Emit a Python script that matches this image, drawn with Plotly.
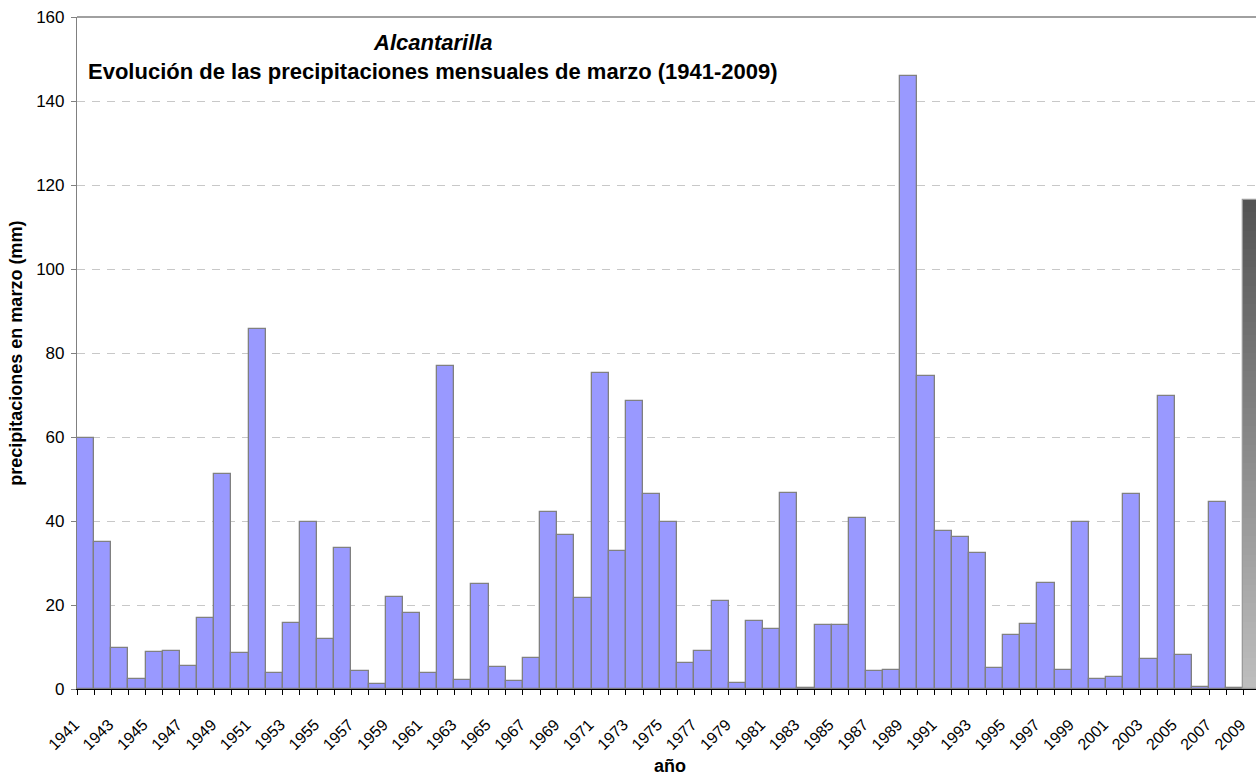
import plotly.graph_objects as go

# ---- data ----
years = list(range(1941, 2009))
precip = [59.7, 35.0, 9.8, 2.4, 8.7, 9.0, 5.4, 16.8, 51.3, 8.5,
          85.6, 3.9, 15.8, 39.8, 12.0, 33.6, 4.2, 1.3, 21.9, 18.1,
          3.9, 77.0, 2.1, 25.1, 5.3, 1.8, 7.3, 42.1, 36.7, 21.7,
          75.3, 32.9, 68.6, 46.4, 39.8, 6.3, 9.1, 21.0, 1.5, 16.3,
          14.2, 46.7, 0.2, 15.2, 15.2, 40.6, 4.2, 4.6, 146.0, 74.6,
          37.7, 36.2, 32.4, 4.9, 12.9, 15.5, 25.3, 4.6, 39.8, 2.5,
          2.9, 46.4, 7.1, 69.8, 8.2, 0.55, 44.6, 0.3]
last_year = 2009
last_value = 116.4
tick_years = list(range(1941, 2010, 2))
tick_labels = [str(y) for y in tick_years]
y_ticks = list(range(0, 161, 20))

FONT = "Liberation Sans, Arial, sans-serif"

fig = go.Figure()

fig.add_trace(go.Bar(
    x=years, y=precip, width=1,
    marker=dict(color="#9999FF", line=dict(color="#808080", width=1.3)),
    showlegend=False, hovertemplate="%{x}: %{y} mm<extra></extra>",
))

# gradient-filled bar for the last year (split into thin slices of the value)
N = 80
h = last_value / N
top_rgb = (84, 84, 84)
bot_rgb = (190, 190, 190)
cols = []
for i in range(N):
    t = i / (N - 1)
    c = [round(bot_rgb[k] + (top_rgb[k] - bot_rgb[k]) * t) for k in range(3)]
    cols.append(f"rgb({c[0]},{c[1]},{c[2]})")
fig.add_trace(go.Bar(
    x=[last_year] * N, y=[h * 1.05] * (N - 1) + [h], base=[i * h for i in range(N)],
    width=1, marker=dict(color=cols, line=dict(width=0)),
    showlegend=False, hoverinfo="skip",
))
fig.add_trace(go.Bar(
    x=[last_year], y=[last_value], width=1,
    marker=dict(color="rgba(0,0,0,0)", line=dict(color="#9a9a9a", width=1.3)),
    showlegend=False, hovertemplate="%{x}: %{y} mm<extra></extra>",
))

fig.update_layout(
    width=1256, height=776,
    margin=dict(l=77, r=0, t=17, b=87, autoexpand=False),
    paper_bgcolor="white", plot_bgcolor="white",
    barmode="overlay", bargap=0,
    font=dict(family=FONT, color="black", size=16),
    xaxis=dict(
        range=[1940.5, 2009.24], automargin=False,
        tickmode="array", tickvals=tick_years, ticktext=tick_labels,
        tickangle=-45, ticks="", tickfont=dict(size=16),
        ticklabelstandoff=19, ticklabelshift=-11, ticklabeloverflow="allow",
        showgrid=False, zeroline=False,
        showline=True, linecolor="black", linewidth=1.2,
        minor=dict(tick0=0.5, dtick=1, ticks="outside", ticklen=5,
                   tickcolor="black", tickwidth=1, showgrid=False),
    ),
    yaxis=dict(
        range=[0, 160], automargin=False, tickmode="array", tickvals=y_ticks,
        ticks="outside", ticklen=5, tickcolor="#808080",
        tickfont=dict(size=17), ticklabelstandoff=3,
        showgrid=True, gridcolor="#c8c8c8", gridwidth=1, griddash="8px,7px",
        zeroline=False, showline=True, linecolor="#808080", linewidth=1.2,
    ),
    shapes=[dict(type="line", xref="paper", yref="paper", x0=0, x1=1, y0=1, y1=1,
                 line=dict(color="#808080", width=1.5))],
    annotations=[
        dict(text="<b><i>Alcantarilla</i></b>", xref="paper", yref="paper",
             x=0.302, y=0.962, xanchor="center", yanchor="middle",
             showarrow=False, font=dict(size=22)),
        dict(text="<b>Evolución de las precipitaciones mensuales de marzo (1941-2009)</b>",
             xref="paper", yref="paper", x=0.302, y=0.919,
             xanchor="center", yanchor="middle", showarrow=False, font=dict(size=22)),
        dict(text="<b>precipitaciones en marzo (mm)</b>", xref="paper", yref="paper",
             x=-0.052, y=0.5, xanchor="center", yanchor="middle", textangle=-90,
             showarrow=False, font=dict(size=18)),
        dict(text="<b>año</b>", xref="paper", yref="paper",
             x=0.5027, y=-0.115, xanchor="center", yanchor="middle",
             showarrow=False, font=dict(size=18)),
    ],
)

fig.write_html(
    "out.html",
    config={"displayModeBar": False},
    post_script="document.body.style.margin='0';document.body.style.overflow='hidden';"
                "document.documentElement.style.overflow='hidden';",
)
